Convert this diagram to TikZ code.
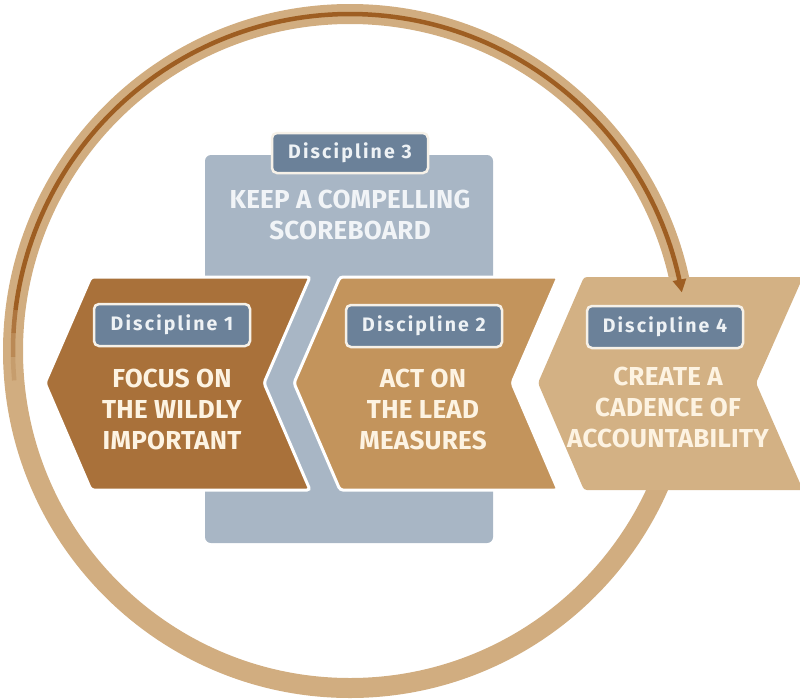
\documentclass[tikz,border=0pt]{standalone}
\usepackage{fontspec}
\setmainfont{Fira Sans}
\newfontfamily\headfont[LetterSpace=1]{Fira Sans}
\newfontfamily\tabfontfam[LetterSpace=11]{Fira Sans}
\usetikzlibrary{arrows.meta}
\definecolor{ringc}{HTML}{D1AD80}
\definecolor{arrowc}{HTML}{9E5E22}
\definecolor{chA}{HTML}{A9713A}
\definecolor{chB}{HTML}{C3945C}
\definecolor{chD}{HTML}{D3B184}
\definecolor{greyc}{HTML}{A8B6C5}
\definecolor{tabc}{HTML}{6B8199}
\definecolor{tabborder}{HTML}{F6F1E8}
\definecolor{tabtext}{HTML}{EEF2F5}
\definecolor{cream}{HTML}{FDF3E2}
\definecolor{greytext}{HTML}{F1F4F7}
\tikzset{
  chevron/.style={draw=white, line width=3pt, rounded corners=3pt},
  tabbox/.style={draw=tabborder, line width=2.5pt, fill=tabc, rounded corners=5pt,
    minimum width=156pt, minimum height=42pt, inner sep=0pt, text=tabtext,
    font=\tabfontfam\bfseries\fontsize{19.5}{21}\selectfont},
  bodytext/.style={align=center, text=cream, inner sep=0pt,
    font=\headfont\bfseries\fontsize{26}{31}\selectfont},
  arrowline/.style={arrowc, line width=4.5pt}
}
\begin{document}
\begin{tikzpicture}[x=1pt,y=-1pt]
\useasboundingbox (0,0) rectangle (800,699);
\coordinate (c) at (350,351);
% ring
\draw[ringc, line width=20pt] (c) circle[radius=337pt];
% grey box (discipline 3)
\fill[greyc, rounded corners=6pt] (205,155) rectangle (493,543);
% chevrons
\filldraw[chevron, fill=chA] (45,383) -- (91,277) -- (310,277) -- (264,383) -- (310,490) -- (91,490) -- cycle;
\filldraw[chevron, fill=chB] (294,383) -- (340,277) -- (558,277) -- (512,383) -- (558,490) -- (340,490) -- cycle;
\fill[chD, rounded corners=3pt] (538,383) -- (584,277) -- (803,277) -- (756,383) -- (803,490) -- (584,490) -- cycle;
% tabs
\node[tabbox, minimum height=40pt] (t3) at (350,153) {Discipline 3};
\node[tabbox] (t1) at (172,325) {Discipline 1};
\node[tabbox] (t2) at (424,326) {Discipline 2};
\node[tabbox] (t4) at (665,327) {Discipline 4};
% body texts
\node[bodytext, text=greytext] (b3) at (350,215) {KEEP A COMPELLING\\SCOREBOARD};
\node[bodytext] (b1) at (172,409) {FOCUS ON\\THE WILDLY\\IMPORTANT};
\node[bodytext] (b2) at (423,409) {ACT ON\\THE LEAD\\MEASURES};
\node[bodytext] (b4) at (668,407) {CREATE A\\CADENCE OF\\ACCOUNTABILITY};
% arrow along the ring
\draw[arrowline, opacity=0.2] plot[domain=175:179, samples=5] ({350+337*cos(\x)},{351+337*sin(\x)});
\draw[arrowline, opacity=0.45] plot[domain=179:183, samples=5] ({350+337*cos(\x)},{351+337*sin(\x)});
\draw[arrowline, opacity=0.7] plot[domain=183:187, samples=5] ({350+337*cos(\x)},{351+337*sin(\x)});
\draw[arrowline, -{Triangle[length=13pt,width=13pt]}] plot[domain=187:350, samples=120] ({350+337*cos(\x)},{351+337*sin(\x)});
\end{tikzpicture}
\end{document}
